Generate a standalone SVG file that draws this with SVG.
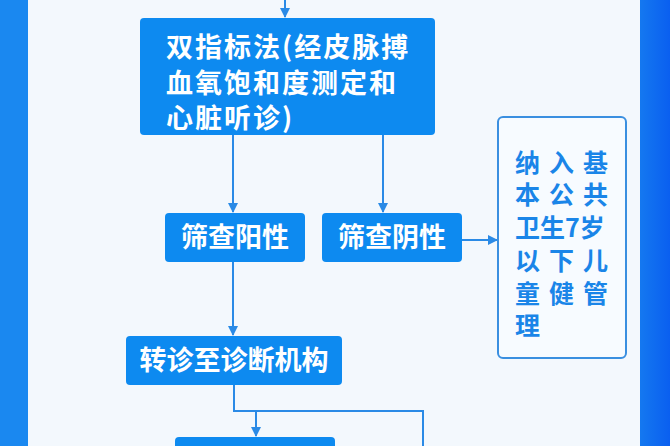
<svg xmlns="http://www.w3.org/2000/svg" width="670" height="446" viewBox="0 0 670 446">
<defs>
<style>
.b{fill:#0d8af0;}
.t{font-family:"Noto Sans CJK SC","Noto Sans",sans-serif;font-weight:bold;fill:#fff;font-size:27px;}
.w{letter-spacing:2px;}
.s{font-family:"Noto Sans CJK SC","Noto Sans",sans-serif;font-weight:bold;fill:#1a85e8;font-size:25px;}
.c{stroke:#2a8ae6;stroke-width:2;fill:none;}
</style>
<marker id="a" viewBox="0 0 10 10" refX="9" refY="5" markerWidth="5" markerHeight="5" orient="auto"><path d="M0,0L10,5L0,10z" fill="#2a8ae6"/></marker>
<linearGradient id="g" x1="0" x2="1"><stop offset="0" stop-color="#1478f0"/><stop offset="1" stop-color="#0a5ff0"/></linearGradient>
</defs>
<rect width="670" height="446" fill="#f3f8fd"/>
<rect x="0" y="0" width="28" height="446" fill="#1a88f0"/>
<rect x="640" y="0" width="30" height="446" fill="url(#g)"/>
<g id="connectors">
<path class="c" d="M285,0V17" marker-end="url(#a)"/>
<path class="c" d="M233,135V212" marker-end="url(#a)"/>
<path class="c" d="M383,135V212" marker-end="url(#a)"/>
<path class="c" d="M462,240H497" marker-end="url(#a)"/>
<path class="c" d="M233,262V335" marker-end="url(#a)"/>
<path class="c" d="M234,385V411H423V446"/>
<path class="c" d="M256,411V436" marker-end="url(#a)"/>
</g>
<g id="n1"><rect class="b" x="140" y="18" width="295" height="117" rx="4"/>
<text class="t w" x="166" y="57">双指标法(经皮脉搏</text>
<text class="t w" x="166" y="93">血氧饱和度测定和</text>
<text class="t w" x="166" y="128">心脏听诊)</text></g>
<g id="n2"><rect class="b" x="165" y="213" width="140" height="49" rx="4"/><text class="t" x="235" y="247" text-anchor="middle">筛查阳性</text></g>
<g id="n3"><rect class="b" x="322" y="213" width="140" height="49" rx="4"/><text class="t" x="392" y="247" text-anchor="middle">筛查阴性</text></g>
<g id="n4"><rect x="498" y="117" width="128" height="241" rx="5" fill="#f7fbff" stroke="#3a8fe0" stroke-width="2"/>
<text class="s" x="515" y="172">纳</text><text class="s" x="549" y="172">入</text><text class="s" x="583" y="172">基</text>
<text class="s" x="515" y="204">本</text><text class="s" x="549" y="204">公</text><text class="s" x="583" y="204">共</text>
<text class="s" x="515" y="237">卫生7岁</text>
<text class="s" x="515" y="270">以</text><text class="s" x="549" y="270">下</text><text class="s" x="583" y="270">儿</text>
<text class="s" x="515" y="303">童</text><text class="s" x="549" y="303">健</text><text class="s" x="583" y="303">管</text>
<text class="s" x="515" y="335">理</text></g>
<g id="n5"><rect class="b" x="126" y="336" width="216" height="49" rx="4"/><text class="t" x="234" y="370" text-anchor="middle">转诊至诊断机构</text></g>
<g id="n6"><rect class="b" x="175" y="437" width="160" height="20" rx="4"/></g>
</svg>
